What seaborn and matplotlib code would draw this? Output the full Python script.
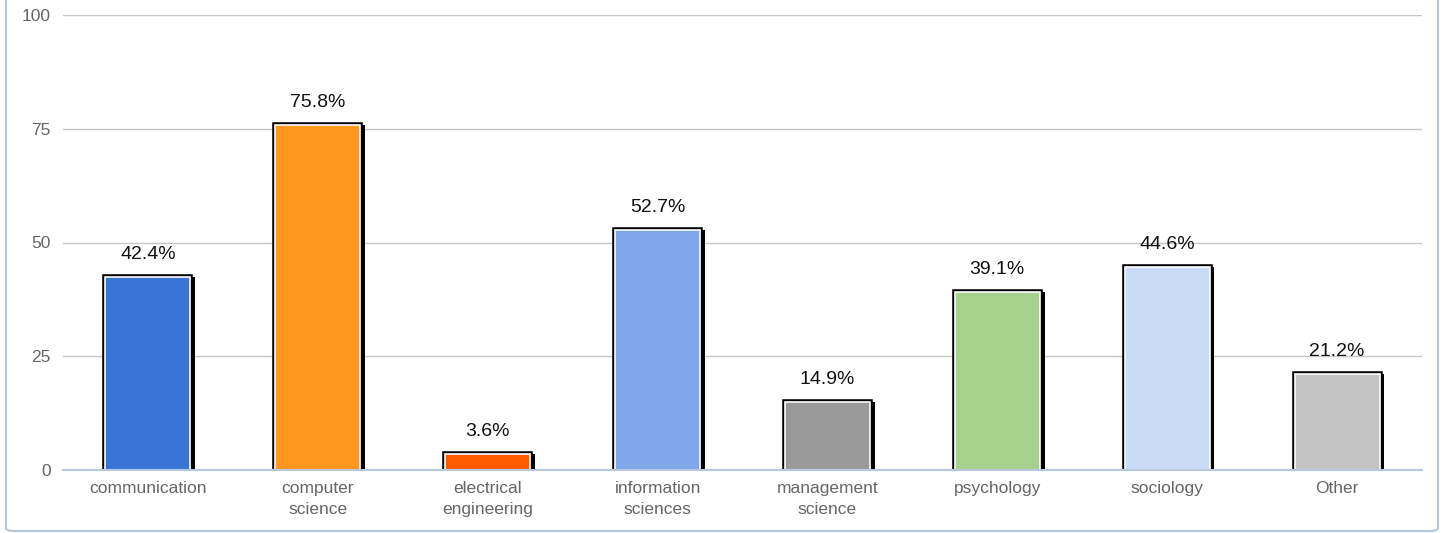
import matplotlib
matplotlib.use("Agg")
import matplotlib.pyplot as plt
import matplotlib.patheffects as pe
from matplotlib.patches import FancyBboxPatch
import seaborn as sns
import pandas as pd
import numpy as np

categories = ["communication", "computer\nscience", "electrical\nengineering",
              "information\nsciences", "management\nscience", "psychology",
              "sociology", "Other"]
values = [42.4, 75.8, 3.6, 52.7, 14.9, 39.1, 44.6, 21.2]
value_labels = ["42.4%", "75.8%", "3.6%", "52.7%", "14.9%", "39.1%", "44.6%", "21.2%"]
colors = ["#3875D7", "#FF961E", "#FF5A00", "#7EA6E8", "#999999", "#A6D18C", "#C9DBF5", "#C4C4C4"]
yticks = [0, 25, 50, 75, 100]

sns.set_theme(style="white")
plt.rcParams['font.family'] = ['Liberation Sans', 'DejaVu Sans']

df = pd.DataFrame({"cat": categories, "val": values})

fig = plt.figure(figsize=(14.43, 5.33), dpi=100)
ax = fig.add_axes([63/1443, 63/533, (1422-63)/1443, (470-15)/533])

sns.barplot(data=df, x="cat", y="val", hue="cat", palette=colors, legend=False,
            width=0.5, ax=ax, edgecolor="white", linewidth=1.2, saturation=1, zorder=3)

for p in ax.patches:
    p.set_path_effects([
        pe.SimplePatchShadow(offset=(3.4, -0.01), shadow_rgbFace="black", alpha=1.0),
        pe.Stroke(linewidth=4.0, foreground="black"),
        pe.Normal(),
    ])

for i, (v, lab) in enumerate(zip(values, value_labels)):
    ax.annotate(lab, xy=(i, v), xytext=(0, 10), textcoords="offset points",
                ha="center", va="bottom", fontsize=14, color="#111111", zorder=5)

ax.set_ylim(0, 100)
ax.set_xlim(-0.5, len(categories) - 0.5)
ax.set_yticks(yticks)
ax.set_yticklabels([str(t) for t in yticks])
ax.yaxis.grid(True, color="#c6c6c6", linewidth=1.0, zorder=0)
ax.set_axisbelow(True)
ax.set_xlabel("")
ax.set_ylabel("")

for s in ["top", "right", "left"]:
    ax.spines[s].set_visible(False)
ax.spines["bottom"].set_color("#b9c9dd")
ax.spines["bottom"].set_linewidth(1.5)
ax.spines["bottom"].set_zorder(4)

ax.tick_params(axis="y", length=0, pad=9, labelsize=12.5, labelcolor="#666666")
ax.tick_params(axis="x", which="major", length=0, pad=8, labelsize=12.5, labelcolor="#666666")
ax.set_xticks(np.arange(-0.5, len(categories), 1.0), minor=True)
ax.tick_params(axis="x", which="minor", length=6, width=1.2, color="#b9c9dd", direction="out")
for t in ax.get_xticklabels():
    t.set_linespacing(1.45)
for t in ax.get_yticklabels():
    t.set_va("top")
    t.set_y(t.get_position()[1])
ax.tick_params(axis="y")
for lbl in ax.get_yticklabels():
    lbl.set_verticalalignment("center_baseline")

frame = FancyBboxPatch((6/1443, 2/533), (1438-6)/1443, 1.2,
                       boxstyle="round,pad=0,rounding_size=0.006",
                       transform=fig.transFigure, facecolor="none",
                       edgecolor="#a9bfd8", linewidth=1.3, clip_on=False)
fig.patches.append(frame)

fig.savefig("out.png", dpi=100)
